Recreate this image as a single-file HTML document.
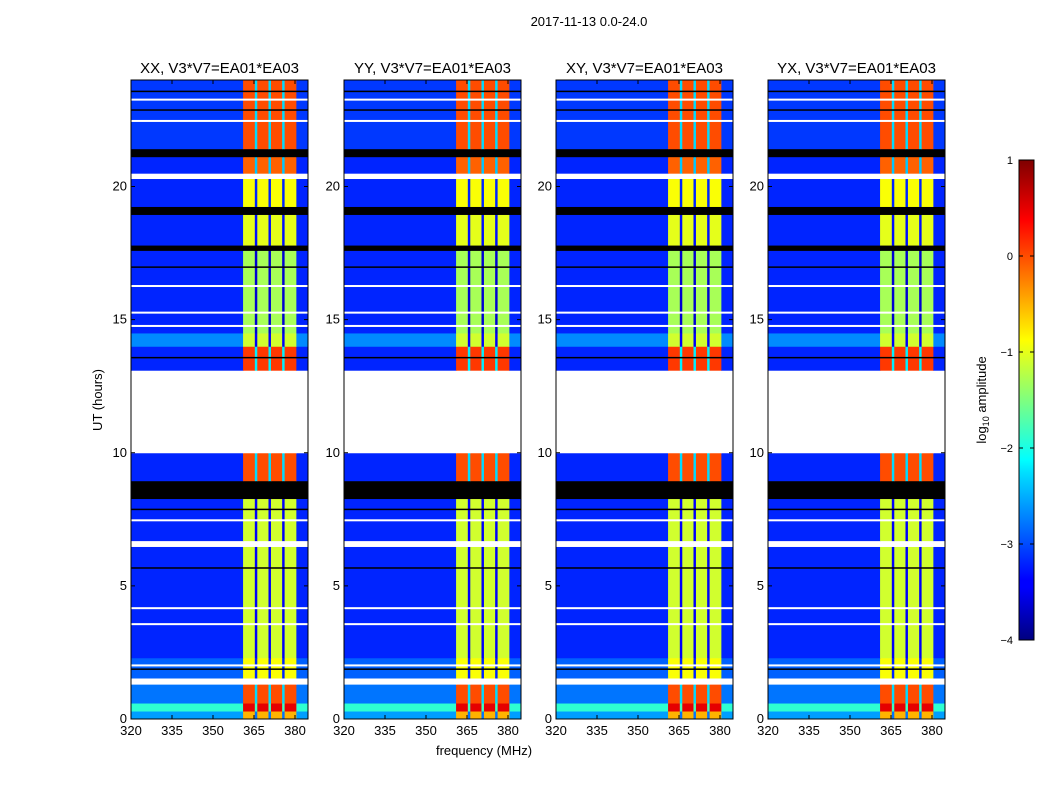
<!DOCTYPE html>
<html><head><meta charset="utf-8">
<style>
body{margin:0;background:#fff;}
svg text{font-family:"Liberation Sans",sans-serif;}
</style></head>
<body>
<svg id="fig" width="1050" height="800" xmlns="http://www.w3.org/2000/svg">
<rect width="1050" height="800" fill="#fff"/>
<text x="589" y="26" font-size="13" text-anchor="middle">2017-11-13 0.0-24.0</text>
<text x="484" y="755" font-size="13" text-anchor="middle">frequency (MHz)</text>
<text transform="translate(102,400) rotate(-90)" font-size="13" text-anchor="middle">UT (hours)</text>
<defs>
<linearGradient id="jetg" x1="0" y1="1" x2="0" y2="0">
<stop offset="0" stop-color="#00007f"/><stop offset="0.11" stop-color="#0000ff"/>
<stop offset="0.125" stop-color="#0000ff"/><stop offset="0.35" stop-color="#00e0ff"/>
<stop offset="0.375" stop-color="#00ffff"/><stop offset="0.5" stop-color="#7fff7f"/>
<stop offset="0.625" stop-color="#ffff00"/><stop offset="0.875" stop-color="#ff0000"/>
<stop offset="1" stop-color="#7f0000"/>
</linearGradient>
</defs>
<rect x="1019" y="160" width="15" height="480" fill="url(#jetg)" stroke="#000"/>
<text transform="translate(986,400) rotate(-90)" font-size="13" text-anchor="middle">log<tspan font-size="9" dy="3">10</tspan><tspan dy="-3"> amplitude</tspan></text>
<g id="cbticks"></g>
</svg>
<script>
const panelTitles=["XX, V3*V7=EA01*EA03","YY, V3*V7=EA01*EA03","XY, V3*V7=EA01*EA03","YX, V3*V7=EA01*EA03"];
const panelLeft=[131,344,556,768];
const xTicks=[320,335,350,365,380];
const yTicks=[0,5,10,15,20];
const cbTicks=[1,0,-1,-2,-3,-4];
// time bands (hours)
const bandStart=[0,0.3,0.6,1.31,1.54,2.3,6.48,6.7,8.28,8.95,10.0,13.1,14.0,14.5,17.6,17.8,18.95,19.25,20.3,20.5,21.12,21.42];
const bandEnd=[0.3,0.6,1.31,1.54,2.3,6.48,6.7,8.28,8.95,10.0,13.1,14.0,14.5,17.6,17.8,18.95,19.25,20.3,20.5,21.12,21.42,24];
const bandKind=["d","d","d","w","d","d","w","d","k","d","w","d","d","d","k","d","k","d","w","d","k","d"];
const bandBase=[-2.6,-1.9,-2.8,0,-2.9,-3.2,0,-3.2,0,-3.2,0,-3.2,-2.7,-3.2,0,-3.2,0,-3.2,0,-3.2,0,-3.1];
const bandWin=[-0.5,0.5,0.0,0,-0.9,-1.1,0,-1.1,0,0.0,0,0.1,-1.1,-1.3,0,-1.0,0,-0.9,0,-0.1,0,0.0];
// frequency segments (MHz): kind b=base, w=window, g=gap
const segStart=[320,361,365.3,366.2,370.3,371.2,375.3,376.2,380.5];
const segEnd=[361,365.3,366.2,370.3,371.2,375.3,376.2,380.5,385];
const segKind=["b","w","g","w","g","w","g","w","b"];
// thin lines
const whiteLines=[2.05,3.6,4.2,7.5,14.8,15.3,16.3,22.5,23.3];
const blackLines=[1.9,5.7,7.9,13.6,17.0,22.9,23.6];

const NS="http://www.w3.org/2000/svg";
const fig=document.getElementById('fig');
const PW=177,TOP=80,BOT=719;
function yS(h){return BOT-(h/24)*(BOT-TOP);}
function xS(f,L){return L+(f-320)*(41/15);}
function jet(v){let t=(v+4)/5;t=Math.max(0,Math.min(1,t));
 const c=x=>Math.round(255*Math.max(0,Math.min(1,1.5-Math.abs(x))));
 return `rgb(${c(4*t-3)},${c(4*t-2)},${c(4*t-1)})`;}
function mk(tag,attrs,parent){const e=document.createElementNS(NS,tag);for(const k in attrs)e.setAttribute(k,attrs[k]);parent.appendChild(e);return e;}
panelLeft.forEach((L,p)=>{
 const g=mk('g',{},fig);
 
 
 const cid='clip'+p;
 const cp=mk('clipPath',{id:cid},g);mk('rect',{x:L,y:TOP,width:PW,height:BOT-TOP},cp);
 const h=mk('g',{'clip-path':`url(#${cid})`},g);
 for(let i=0;i<bandStart.length;i++){
  const y1=yS(bandEnd[i]),y0=yS(bandStart[i]);
  for(let j=0;j<segStart.length;j++){
   let col;
   if(bandKind[i]==='w')col='#fff';else if(bandKind[i]==='k')col='#000';
   else{const v=segKind[j]==='b'?bandBase[i]:segKind[j]==='w'?bandWin[i]:bandWin[i]-2.3;col=jet(v);}
   const x0=xS(segStart[j],L),x1=xS(segEnd[j],L);
   const r=mk('rect',{x:x0,y:y1,width:x1-x0+0.5,height:y0-y1+0.5,fill:col},h);
   
   
  }
 }
 whiteLines.forEach(t=>{const r=mk('rect',{x:L,y:yS(t),width:PW,height:2,fill:'#fff'},h);
  });
 blackLines.forEach(t=>{const r=mk('rect',{x:L,y:yS(t),width:PW,height:1.5,fill:'#000'},h);
  });
 const fr=mk('rect',{x:L,y:TOP,width:PW,height:BOT-TOP,fill:'none',stroke:'#000'},g);
 
 const tt=mk('text',{x:L+PW/2,y:73,'font-size':15,'text-anchor':'middle'},g);tt.textContent=panelTitles[p];
 
 xTicks.forEach(f=>{const x=xS(f,L);
  mk('line',{x1:x,x2:x,y1:BOT,y2:BOT-4,stroke:'#000'},g);mk('line',{x1:x,x2:x,y1:TOP,y2:TOP+4,stroke:'#000'},g);
  const t=mk('text',{x:x,y:BOT+16,'font-size':13,'text-anchor':'middle'},g);t.textContent=f;
  });
 yTicks.forEach(v=>{const y=yS(v);
  mk('line',{x1:L,x2:L+4,y1:y,y2:y,stroke:'#000'},g);mk('line',{x1:L+PW,x2:L+PW-4,y1:y,y2:y,stroke:'#000'},g);
  const t=mk('text',{x:L-4,y:y+4,'font-size':13,'text-anchor':'end'},g);t.textContent=v;
  });
});
const cb=document.getElementById('cbticks');
cbTicks.forEach(v=>{const y=640-(v+4)/5*480;
 mk('line',{x1:1019,x2:1023,y1:y,y2:y,stroke:'#000'},cb);mk('line',{x1:1034,x2:1030,y1:y,y2:y,stroke:'#000'},cb);
 const t=mk('text',{x:1013,y:y+4,'font-size':11,'text-anchor':'end'},cb);t.textContent=v<0?'\u2212'+(-v):v;
 });
</script>
</body></html>
